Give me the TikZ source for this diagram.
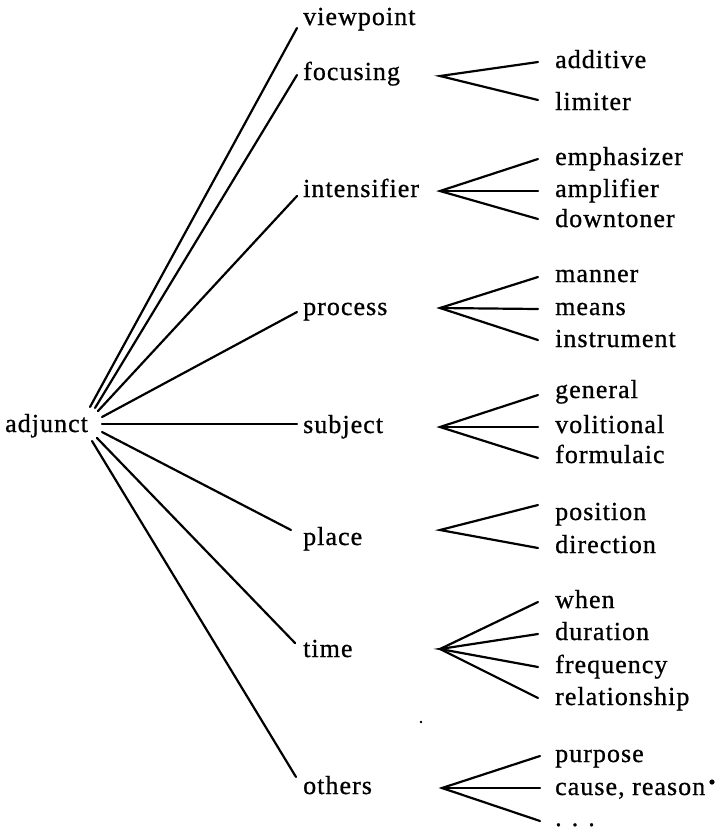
\documentclass[tikz,border=0pt]{standalone}
\usepackage{fontspec}
\setmainfont{Liberation Serif}[LetterSpace=4,FakeBold=0.8]
\begin{document}
\begin{tikzpicture}[x=1pt,y=-1pt,
  lbl/.style={anchor=base west,inner sep=0pt,font=\fontsize{26}{30}\selectfont},
  conn/.style={line width=2.2pt,line cap=round}]
\useasboundingbox (0,0) rectangle (716,831);
% root
\node[lbl] (adj) at (5,432) {adjunct};
% level 1
\node[lbl] (vp) at (303,25) {viewpoint};
\node[lbl] (fo) at (303,80) {focusing};
\node[lbl] (in) at (303,197) {intensifier};
\node[lbl] (pr) at (303,315) {process};
\node[lbl] (su) at (303,433) {subject};
\node[lbl] (pl) at (303,545) {place};
\node[lbl] (ti) at (303,657) {time};
\node[lbl] (ot) at (303,794) {others};
% level 2
\node[lbl] (ad) at (555,68) {additive};
\node[lbl] (li) at (555,110) {limiter};
\node[lbl] (em) at (555,165) {emphasizer};
\node[lbl] (am) at (555,197) {amplifier};
\node[lbl] (do) at (555,227) {downtoner};
\node[lbl] (ma) at (555,282) {manner};
\node[lbl] (me) at (555,315) {means};
\node[lbl] (is) at (555,347) {instrument};
\node[lbl] (ge) at (555,398) {general};
\node[lbl] (vo) at (555,433) {volitional};
\node[lbl] (fm) at (555,463) {formulaic};
\node[lbl] (po) at (555,520) {position};
\node[lbl] (di) at (555,553) {direction};
\node[lbl] (wh) at (555,608) {when};
\node[lbl] (du) at (555,640) {duration};
\node[lbl] (fr) at (555,673) {frequency};
\node[lbl] (re) at (555,705) {relationship};
\node[lbl] (pu) at (555,762) {purpose};
\node[lbl] (ca) at (555,795) {cause, reason};
\node[lbl] (et) at (555,826) {. . .};
% root line starts
\coordinate (s1) at (90,407);
\coordinate (s2) at (95,408);
\coordinate (s3) at (98,411);
\coordinate (s4) at (102,417);
\coordinate (s5) at (102,424);
\coordinate (s6) at (102,432);
\coordinate (s7) at (97,438);
\coordinate (s8) at (92,441);
% level 1 line ends
\coordinate (vpL) at (297,28);
\coordinate (foL) at (297,75);
\coordinate (inL) at (297,196);
\coordinate (prL) at (297,312);
\coordinate (suL) at (297,424);
\coordinate (plL) at (291,530);
\coordinate (tiL) at (295,643);
\coordinate (otL) at (296,777);
% fan vertices
\coordinate (foV) at (440,76);
\coordinate (inV) at (440,191);
\coordinate (prV) at (440,308);
\coordinate (suV) at (440,427);
\coordinate (plV) at (440,530);
\coordinate (tiV) at (440,649);
\coordinate (otV) at (442,788);
% level 2 ends
\coordinate (adL) at (538,62);
\coordinate (liL) at (538,100);
\coordinate (emL) at (538,159);
\coordinate (amL) at (538,191);
\coordinate (doL) at (538,219);
\coordinate (maL) at (538,277);
\coordinate (meL) at (538,309);
\coordinate (isL) at (538,340);
\coordinate (geL) at (538,395);
\coordinate (voL) at (538,427);
\coordinate (fmL) at (538,458);
\coordinate (poL) at (538,505);
\coordinate (diL) at (538,548);
\coordinate (whL) at (538,602);
\coordinate (duL) at (538,634);
\coordinate (frL) at (538,667);
\coordinate (reL) at (538,698);
\coordinate (puL) at (540,756);
\coordinate (caL) at (540,788);
\coordinate (etL) at (540,821);
% connectors root
\draw[conn] (s1) -- (vpL);
\draw[conn] (s2) -- (foL);
\draw[conn] (s3) -- (inL);
\draw[conn] (s4) -- (prL);
\draw[conn] (s5) -- (suL);
\draw[conn] (s6) -- (plL);
\draw[conn] (s7) -- (tiL);
\draw[conn] (s8) -- (otL);
% fans
\draw[conn] (adL) -- (foV) -- (liL);
\draw[conn] (emL) -- (inV) -- (doL);
\draw[conn] (inV) -- (amL);
\draw[conn] (maL) -- (prV) -- (isL);
\draw[conn] (prV) -- (meL);
\draw[conn] (geL) -- (suV) -- (fmL);
\draw[conn] (suV) -- (voL);
\draw[conn] (poL) -- (plV) -- (diL);
\draw[conn] (whL) -- (tiV) -- (reL);
\draw[conn] (duL) -- (tiV) -- (frL);
\draw[conn] (puL) -- (otV) -- (etL);
\draw[conn] (otV) -- (caL);
% stray marks
\fill (421,722) circle (1.3);
\fill (712,782) circle (2.6);
\end{tikzpicture}
\end{document}
